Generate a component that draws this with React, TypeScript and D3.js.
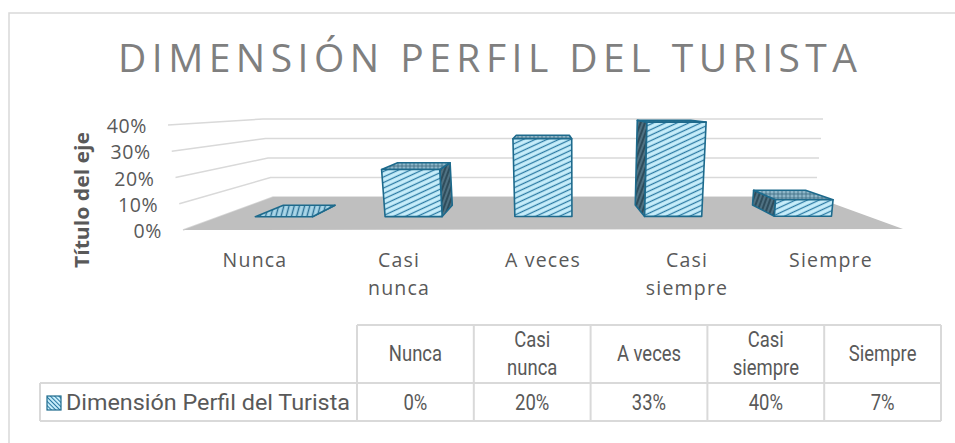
import React from "react"
import * as d3 from "d3"

const categories = ["Nunca", "Casi nunca", "A veces", "Casi siempre", "Siempre"]
const categoryLines = [["Nunca"], ["Casi", "nunca"], ["A veces"], ["Casi", "siempre"], ["Siempre"]]
const values = [0, 0.2, 0.33, 0.4, 0.07]
const valueLabels = ["0%", "20%", "33%", "40%", "7%"]
const yTicks = [0, 0.1, 0.2, 0.3, 0.4]
const seriesName = "Dimensión Perfil del Turista"
const chartTitle = "DIMENSIÓN PERFIL DEL TURISTA"
const axisTitle = "Título del eje"

type Pt = [number, number]

// projected corners of the 3D plot box: front plane (w=0) and back plane (w=1)
const box = {
  front: { bl: [183, 230] as Pt, br: [903, 229] as Pt, tl: [168, 125] as Pt, tr: [915, 124] as Pt },
  back: { bl: [273, 197] as Pt, br: [815, 197] as Pt, tl: [263, 119] as Pt, tr: [823, 119] as Pt },
}

const lerp = (a: Pt, b: Pt, t: number): Pt => [a[0] + (b[0] - a[0]) * t, a[1] + (b[1] - a[1]) * t]

const project = (u: number, v: number, w: number): Pt => {
  const plane = (p: typeof box.front) => lerp(lerp(p.bl, p.br, u), lerp(p.tl, p.tr, u), v)
  return lerp(plane(box.front), plane(box.back), w)
}

const uScale = d3.scaleBand<string>().domain(categories).range([0, 1]).paddingInner(0.56).paddingOuter(0.28)
const vScale = d3.scaleLinear().domain([0, 0.4]).range([0, 1])
const depth: [number, number] = [0.4, 0.75]

const poly = (pts: Pt[]) => d3.line()(pts) + "Z"

const FONT = "'Open Sans', 'Noto Sans', sans-serif"
const NARROW = "'Roboto', 'Liberation Sans', sans-serif"
const TEXT = "#595959"
const BORDER = "#1d6a8c"

// table layout
const tableLeft = 40
const colScale = d3.scaleBand<string>().domain(categories).range([357, 941])
const rowTop = 325
const rowMid = 383
const rowBottom = 421
const squeeze = 0.84

function Bar({ cat, value }: { cat: string; value: number }) {
  const u0 = uScale(cat) || 0
  const u1 = u0 + uScale.bandwidth()
  const v1 = vScale(value)
  const [w0, w1] = depth
  const p = (u: number, v: number, w: number) => project(u, v, w)
  const front = [p(u0, 0, w0), p(u1, 0, w0), p(u1, v1, w0), p(u0, v1, w0)]
  const top = [p(u0, v1, w0), p(u1, v1, w0), p(u1, v1, w1), p(u0, v1, w1)]
  const left = [p(u0, 0, w0), p(u0, 0, w1), p(u0, v1, w1), p(u0, v1, w0)]
  const right = [p(u1, 0, w0), p(u1, 0, w1), p(u1, v1, w1), p(u1, v1, w0)]
  const showLeft = p(u0, 0, w1)[0] < p(u0, 0, w0)[0] - 1
  const showRight = p(u1, 0, w1)[0] > p(u1, 0, w0)[0] + 1
  return (
    <g stroke={BORDER} strokeWidth={1.6} strokeLinejoin="round">
      {showLeft && <path d={poly(left)} fill="url(#sideHatch)" />}
      {showRight && <path d={poly(right)} fill="url(#sideHatch)" />}
      <path d={poly(top)} fill={value === 0 ? "url(#flatHatch)" : "url(#topHatch)"} />
      {value > 0 && <path d={poly(front)} fill="url(#frontHatch)" />}
    </g>
  )
}

// narrow table text, squeezed horizontally around its anchor
function NarrowText({ x, y, anchor = "middle", children }: { x: number; y: number; anchor?: string; children: React.ReactNode }) {
  return (
    <text
      transform={`translate(${x},${y}) scale(${squeeze},1)`}
      textAnchor={anchor}
      fontFamily={NARROW}
      fontSize={22}
      fill={TEXT}
    >
      {children}
    </text>
  )
}

export default function App() {
  const floor = [project(0, 0, 0), project(0, 0, 1), project(1, 0, 1), project(1, 0, 0)]
  const frontFloorY = project(0, 0, 0)[1]
  return (
    <svg width={955} height={443} style={{ position: "absolute", left: 0, top: 0, background: "#fff" }}>
      <defs>
        <pattern id="frontHatch" width={5} height={5} patternUnits="userSpaceOnUse" patternTransform="rotate(-25)">
          <rect width={5} height={5} fill="#c8eefb" />
          <line x1={0} y1={2.5} x2={5} y2={2.5} stroke="#2b7aa3" strokeWidth={1.3} />
        </pattern>
        <pattern id="flatHatch" width={5} height={5} patternUnits="userSpaceOnUse" patternTransform="rotate(-75)">
          <rect width={5} height={5} fill="#a9d6e8" />
          <line x1={0} y1={2.5} x2={5} y2={2.5} stroke="#2b6f93" strokeWidth={1.4} />
        </pattern>
        <pattern id="sideHatch" width={4} height={4} patternUnits="userSpaceOnUse" patternTransform="rotate(-70)">
          <rect width={4} height={4} fill="#2f4d5c" />
          <line x1={0} y1={2} x2={4} y2={2} stroke="#6f95a7" strokeWidth={1} />
        </pattern>
        <pattern id="topHatch" width={4} height={4} patternUnits="userSpaceOnUse">
          <rect width={4} height={4} fill="#8fb7c9" />
          <path d="M0,2H4M2,0V4" stroke="#3c6a80" strokeWidth={0.8} />
        </pattern>
        <pattern id="keyHatch" width={3} height={3} patternUnits="userSpaceOnUse" patternTransform="rotate(45)">
          <rect width={3} height={3} fill="#c8eefb" />
          <line x1={0} y1={1.5} x2={3} y2={1.5} stroke="#2b7aa3" strokeWidth={1} />
        </pattern>
      </defs>

      <rect x={9} y={13} width={960} height={440} fill="#fff" stroke="#d9d9d9" strokeWidth={1.5} />

      <text
        x={487.5}
        y={72}
        textAnchor="middle"
        fontFamily={FONT}
        fontSize={39}
        fontWeight={500}
        fill="#7f7f7f"
        textLength={739}
        lengthAdjust="spacing"
      >
        {chartTitle}
      </text>

      {/* gridlines on side and back walls */}
      {yTicks.map((t) => (
        <path
          key={t}
          d={d3.line()([project(0, vScale(t), 0), project(0, vScale(t), 1), project(1, vScale(t), 1)]) || ""}
          fill="none"
          stroke="#d9d9d9"
          strokeWidth={1.5}
        />
      ))}

      <path d={poly(floor)} fill="#bfbfbf" />

      {yTicks.map((t) => {
        const [x, y] = project(0, vScale(t), 0)
        return (
          <text key={t} x={x - 21} y={y + 8} textAnchor="end" fontFamily={FONT} fontSize={19.5} letterSpacing={0.6} fill={TEXT}>
            {d3.format(".0%")(t)}
          </text>
        )
      })}

      <text
        transform="translate(89,200) rotate(-90)"
        textAnchor="middle"
        fontFamily={FONT}
        fontSize={19}
        fontWeight="bold"
        fill={TEXT}
        textLength={136}
        lengthAdjust="spacingAndGlyphs"
      >
        {axisTitle}
      </text>

      {categories.map((c, i) => (
        <Bar key={c} cat={c} value={values[i]} />
      ))}

      {categories.map((c, i) => {
        const x = project((uScale(c) || 0) + uScale.bandwidth() / 2, 0, 0)[0]
        return (
          <text
            key={c}
            x={x}
            y={frontFloorY + 37}
            textAnchor="middle"
            fontFamily={FONT}
            fontSize={19.5}
            letterSpacing={1.2}
            fill={TEXT}
          >
            {categoryLines[i].map((ln, j) => (
              <tspan key={j} x={x} dy={j === 0 ? 0 : 28}>
                {ln}
              </tspan>
            ))}
          </text>
        )
      })}

      {/* data table */}
      <g stroke="#d9d9d9" strokeWidth={2} fill="none">
        <path d={`M${colScale.range()[0]},${rowTop}H${colScale.range()[1]}`} />
        <path d={`M${tableLeft},${rowMid}H${colScale.range()[1]}`} />
        <path d={`M${tableLeft},${rowBottom}H${colScale.range()[1]}`} />
        <path d={`M${tableLeft},${rowMid}V${rowBottom}`} />
        <path d={`M${colScale.range()[0]},${rowTop}V${rowBottom}`} />
        {categories.map((c) => (
          <path key={c} d={`M${(colScale(c) || 0) + colScale.bandwidth()},${rowTop}V${rowBottom}`} />
        ))}
      </g>
      {categories.map((c, i) => {
        const x = (colScale(c) || 0) + colScale.bandwidth() / 2
        const lines = categoryLines[i]
        return (
          <g key={c}>
            {lines.length === 1 ? (
              <NarrowText x={x} y={361}>{lines[0]}</NarrowText>
            ) : (
              <>
                <NarrowText x={x} y={347}>{lines[0]}</NarrowText>
                <NarrowText x={x} y={375}>{lines[1]}</NarrowText>
              </>
            )}
            <NarrowText x={x} y={410}>{valueLabels[i]}</NarrowText>
          </g>
        )
      })}
      <rect x={47} y={396} width={14} height={14} fill="url(#keyHatch)" stroke={BORDER} strokeWidth={1.2} />
      <text x={66} y={410} fontFamily={NARROW} fontSize={22} fill={TEXT} textLength={284} lengthAdjust="spacingAndGlyphs">
        {seriesName}
      </text>
    </svg>
  )
}
